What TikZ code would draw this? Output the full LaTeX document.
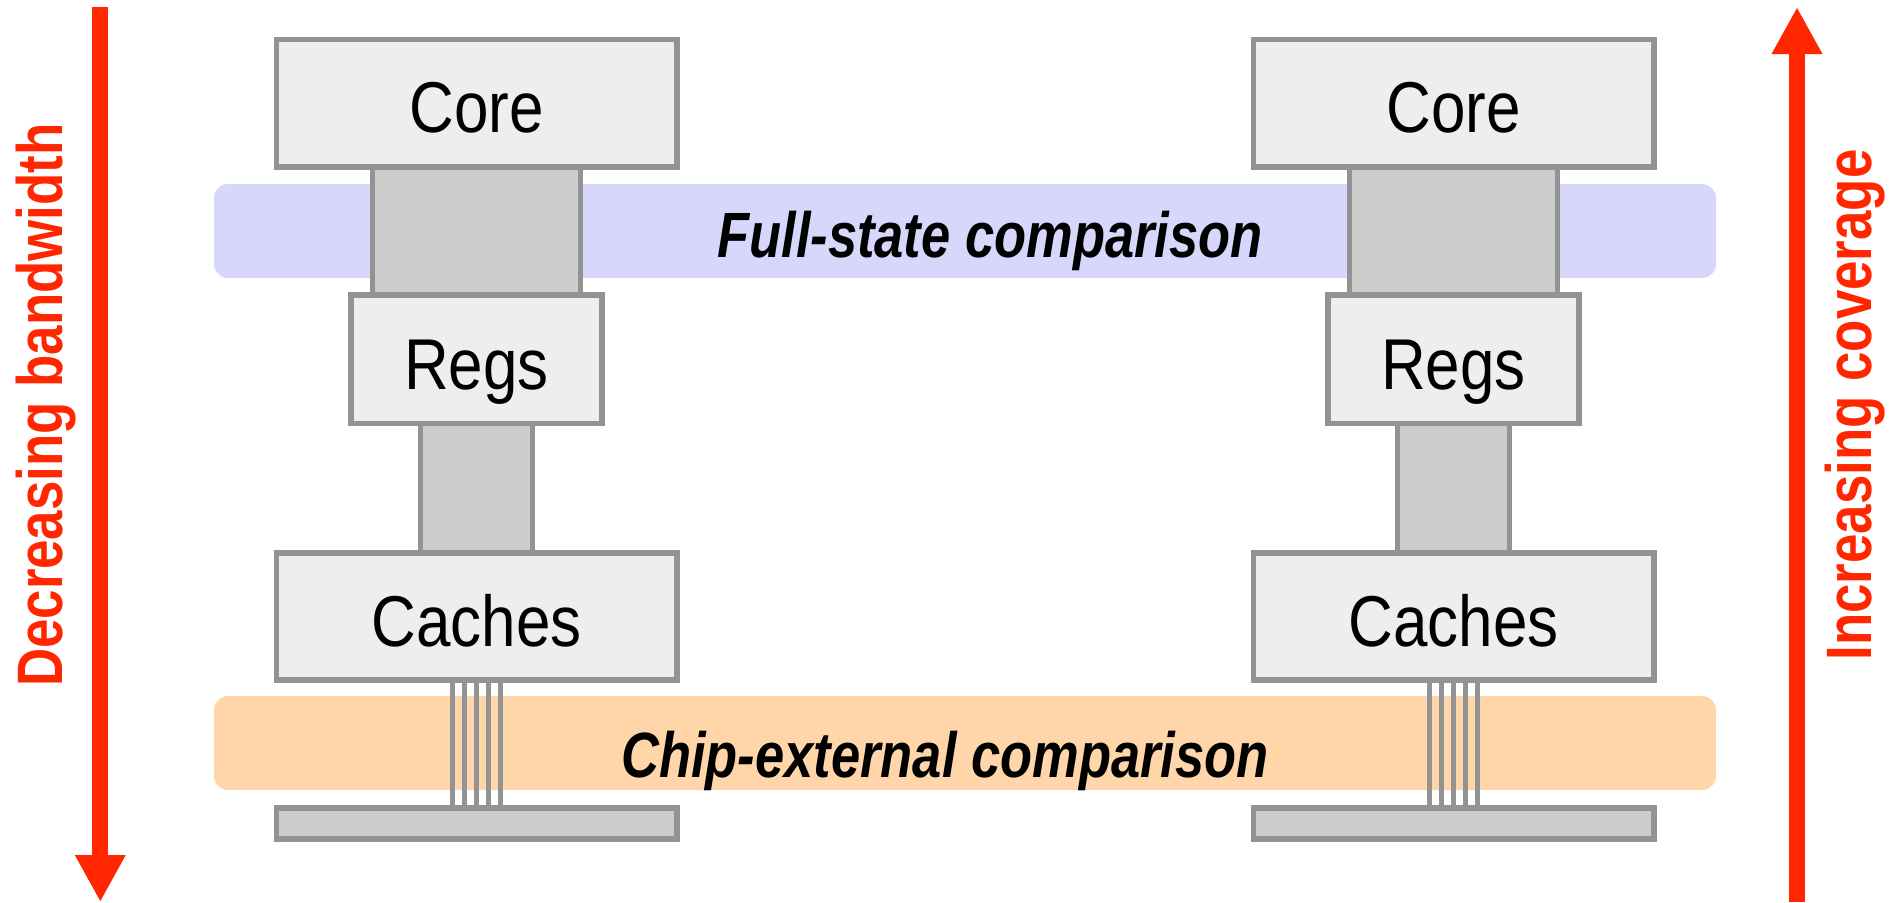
\documentclass[tikz,border=0pt]{standalone}
\usepackage{fontspec}
\setmainfont{Liberation Sans}
\newfontfamily\labelfont[FakeStretch=0.86]{Liberation Sans}
\newfontfamily\sidefont[FakeStretch=0.823]{Liberation Sans}
\newfontfamily\bandfont[FakeStretch=0.82]{Liberation Sans}
\usetikzlibrary{arrows.meta}
\definecolor{boxfill}{RGB}{238,238,238}
\definecolor{linkfill}{RGB}{204,204,204}
\definecolor{edgegray}{RGB}{147,147,147}
\definecolor{bandblue}{RGB}{214,215,251}
\definecolor{bandorange}{RGB}{254,214,170}
\definecolor{trendred}{RGB}{255,38,0}

\begin{document}
\begin{tikzpicture}[x=0.5pt,y=-0.5pt,
  unit/.style={draw=edgegray, line width=2.8pt, fill=boxfill, inner sep=0pt,
    minimum width=200.2pt, minimum height=63.85pt,
    text height=29.8pt, text depth=0pt,
    font=\labelfont\fontsize{36}{40}\selectfont},
  link/.style={draw=edgegray, line width=2.8pt, fill=linkfill, inner sep=0pt},
  band/.style={rounded corners=7pt, inner sep=0pt,
    minimum width=751pt, minimum height=47pt},
  wire/.style={draw=edgegray, line width=2.8pt},
  bandtext/.style={inner sep=0pt, font=\bandfont\bfseries\itshape\fontsize{32}{36}\selectfont},
  sidetext/.style={inner sep=0pt, text=trendred, font=\sidefont\bfseries\fontsize{32.1}{36}\selectfont},
  trend/.style={draw=trendred, line width=8pt,
    -{Triangle[width=23.65pt,length=23.5pt]}}
]
\useasboundingbox (0,0) rectangle (1895,902);

% comparison bands behind the two stacks
\node[band, fill=bandblue] (fullband) at (965,231) {};
\node[band, fill=bandorange] (chipband) at (965,743) {};

% two identical processor stacks
\foreach \cx/\s in {476.5/L,1453.5/R}{
  \node[link, minimum width=104pt, minimum height=64pt] (upper\s) at (\cx,231) {};
  \node[link, minimum width=56pt, minimum height=64.75pt] (lower\s) at (\cx,488.25) {};
  \node[unit] (core\s) at (\cx,103.15) {Core};
  \node[unit, minimum width=125.5pt, minimum height=64.25pt] (regs\s) at (\cx,359.25) {Regs};
  \node[unit, minimum height=63.35pt] (caches\s) at (\cx,616.35) {Caches};
  \node[link, minimum width=200.2pt, minimum height=15.6pt] (bus\s) at (\cx,823.6) {};
  \foreach \dx in {-24,-12,0,12,24}
    \draw[wire] ([xshift=\dx*0.5pt]caches\s.south) -- ([xshift=\dx*0.5pt]bus\s.north);
}

% band captions
\node[bandtext, anchor=base] (fulltxt) at (990,257) {Full-state comparison};
\node[bandtext, anchor=base] (chiptxt) at (945,777) {Chip-external comparison};

% trend arrows at the sides
\coordinate (bwStart) at (100.3,7);
\coordinate (bwEnd) at (100.3,902);
\draw[trend] (bwStart) -- (bwEnd);
\coordinate (cvStart) at (1797,902);
\coordinate (cvEnd) at (1797,7);
\draw[trend] (cvStart) -- (cvEnd);
\node[sidetext, rotate=90, anchor=base] (bwtxt) at (62.3,405) {Decreasing bandwidth};
\node[sidetext, rotate=90, anchor=base] (cvtxt) at (1871,405) {Increasing coverage};
\end{tikzpicture}
\end{document}
